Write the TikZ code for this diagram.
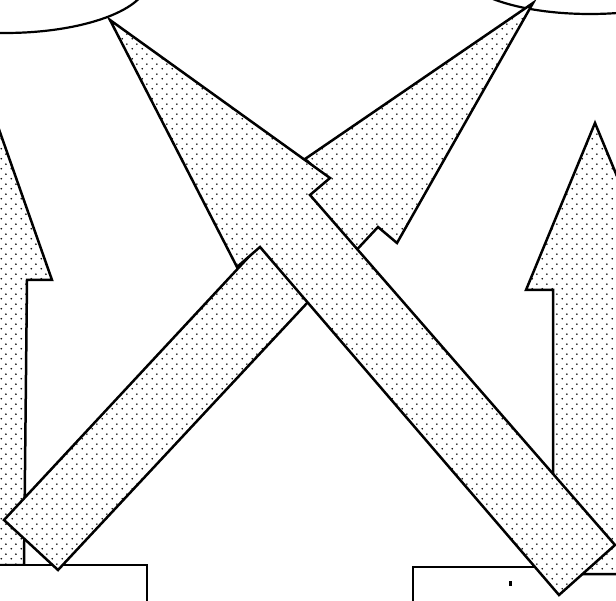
\documentclass[tikz,border=0pt]{standalone}
\usetikzlibrary{patterns.meta}
\tikzdeclarepattern{
  name=sparsedots,
  type=uncolored,
  bounding box={(0pt,0pt) and (10pt,10pt)},
  tile size={(10pt,10pt)},
  code={
    \fill (2.5pt,2.5pt) circle (1.0pt);
    \fill (7.5pt,7.5pt) circle (1.0pt);
  }
}
\tikzset{
  arrowshape/.style={draw=black, line width=2.5pt, line join=miter,
    preaction={fill=white}, pattern={sparsedots}, pattern color=black},
  boxshape/.style={draw=black, line width=2pt, fill=white},
  cloudarc/.style={draw=black, line width=2.2pt},
}
\begin{document}
\begin{tikzpicture}[x=1pt,y=-1pt]
\useasboundingbox (0,0) rectangle (616,601);
\clip (0,0) rectangle (616,601);
\fill[white] (0,0) rectangle (616,601);

% clouds at the top
\draw[cloudarc] (5,-20) ellipse [x radius=143, y radius=53];
\draw[cloudarc] (590,-30) ellipse [x radius=129, y radius=44];

% left upright arrow
\coordinate (L1) at (-30,47);
\coordinate (L2) at (52,280);
\coordinate (L3) at (27,280);
\coordinate (L4) at (24,565);
\coordinate (L5) at (-80,565);
\coordinate (L6) at (-80,47);
\path[arrowshape] (L1) -- (L2) -- (L3) -- (L4) -- (L5) -- (L6) -- cycle;

% bottom boxes
\path[boxshape] (-10,565) rectangle (147,640);
\path[boxshape] (413,567) rectangle (640,640);
\fill (509,581) rectangle (511.5,586);

% right upright arrow
\coordinate (R1) at (595,123);
\coordinate (R2) at (526,290);
\coordinate (R3) at (553,290);
\coordinate (R4) at (553,574);
\coordinate (R5) at (640,574);
\coordinate (R6) at (640,290);
\coordinate (R7) at (664,290);
\path[arrowshape] (R1) -- (R2) -- (R3) -- (R4) -- (R5) -- (R6) -- (R7) -- cycle;

% arrow A: from bottom left to top right
\coordinate (A1) at (533,3);
\coordinate (A2) at (397,243);
\coordinate (A3) at (378,227);
\coordinate (A4) at (58,570);
\coordinate (A5) at (4,520);
\coordinate (A6) at (324,176);
\coordinate (A7) at (305,159);
\path[arrowshape] (A1) -- (A2) -- (A3) -- (A4) -- (A5) -- (A6) -- (A7) -- cycle;

% arrow B: from bottom right to top left
\coordinate (B1) at (110,20);
\coordinate (B2) at (330,178);
\coordinate (B3) at (310,195);
\coordinate (B4) at (615,545);
\coordinate (B5) at (559,595);
\coordinate (B6) at (260,247);
\coordinate (B7) at (237,267);
\path[arrowshape] (B1) -- (B2) -- (B3) -- (B4) -- (B5) -- (B6) -- (B7) -- cycle;
\end{tikzpicture}
\end{document}
